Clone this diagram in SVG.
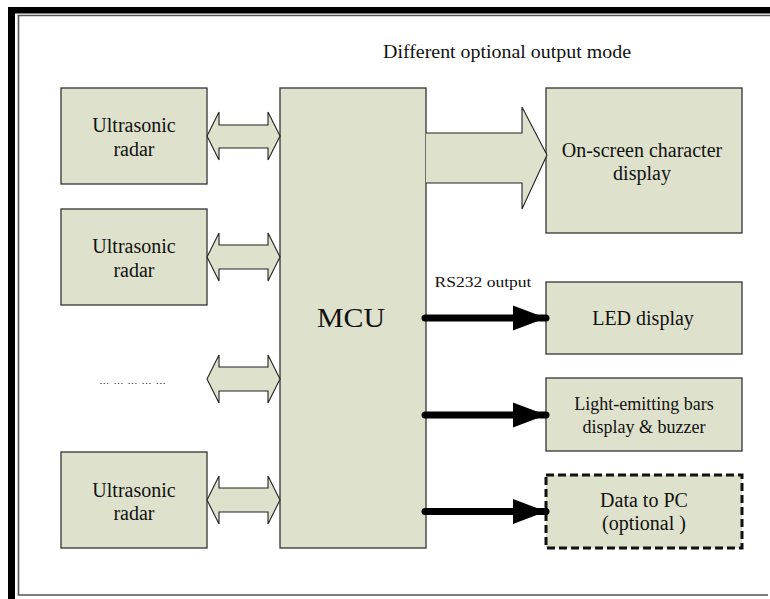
<svg xmlns="http://www.w3.org/2000/svg" width="770" height="599" viewBox="0 0 770 599">
<style>
.box{fill:#dee1cb;stroke:#333;stroke-width:1.3}
.dash{fill:#dee1cb;stroke:#111;stroke-width:3;stroke-dasharray:8 4}
.dbl{fill:#dee1cb;stroke:#222;stroke-width:1.1;stroke-linejoin:miter}
text{font-family:"Liberation Serif","DejaVu Serif",serif;fill:#111;text-anchor:middle}
.thick{stroke:#000;stroke-width:7;stroke-linecap:round;fill:none}
</style>
<defs>
<marker id="ah" markerUnits="userSpaceOnUse" markerWidth="34" markerHeight="30" refX="33" refY="12.5" orient="auto" viewBox="0 0 34 25">
<path d="M0,0 L33,12.5 L0,25 z" fill="#000"/>
</marker>
</defs>
<rect width="770" height="599" fill="#fff"/>
<g id="frame">
<rect x="8" y="7" width="762" height="6.5" fill="#000"/>
<rect x="8" y="7" width="7" height="592" fill="#000"/>
<path d="M17.5,15.5 H770 M18.5,15.5 V595 H768" fill="none" stroke="#555" stroke-width="1.6"/>
</g>
<text x="507" y="58" font-size="18" textLength="248" lengthAdjust="spacingAndGlyphs">Different optional output mode</text>
<g id="radar1"><rect class="box" x="61" y="88" width="146" height="96"/><text x="134" y="132" font-size="20">Ultrasonic</text><text x="134" y="155.5" font-size="20">radar</text></g>
<g id="radar2"><rect class="box" x="61" y="209" width="146" height="96"/><text x="134" y="253" font-size="20">Ultrasonic</text><text x="134" y="276.5" font-size="20">radar</text></g>
<g id="dots" font-size="10"><text x="104.2" y="384">…</text><text x="118.5" y="384">…</text><text x="132.5" y="384">…</text><text x="146.5" y="384">…</text><text x="160.8" y="384">…</text></g>
<g id="radar3"><rect class="box" x="61" y="452" width="146" height="96"/><text x="134" y="497" font-size="20">Ultrasonic</text><text x="134" y="519.5" font-size="20">radar</text></g>
<g id="mcu"><rect class="box" x="280" y="88" width="146" height="460"/><text x="351" y="327" font-size="28" textLength="68" lengthAdjust="spacingAndGlyphs">MCU</text></g>
<g id="osd"><rect class="box" x="546" y="88" width="196" height="145"/><text x="642" y="157" font-size="20">On-screen character</text><text x="642" y="180" font-size="20">display</text></g>
<g id="led"><rect class="box" x="546" y="282" width="196" height="72"/><text x="643" y="325" font-size="20">LED display</text></g>
<g id="bars"><rect class="box" x="546" y="378" width="196" height="73"/><text x="644" y="410" font-size="18">Light-emitting bars</text><text x="644" y="432.5" font-size="18">display &amp; buzzer</text></g>
<g id="pc"><rect class="dash" x="546" y="475" width="196" height="73"/><text x="644" y="507" font-size="20">Data to PC</text><text x="644" y="530" font-size="20">(optional )</text></g>
<g id="connectors">
<path class="dbl" d="M207,136 L219,112 L219,125 L268,125 L268,112 L280,136 L268,160 L268,148 L219,148 L219,160 Z"/>
<path class="dbl" d="M207,257 L219,233 L219,245 L268,245 L268,233 L280,257 L268,281 L268,269 L219,269 L219,281 Z"/>
<path class="dbl" d="M207,379 L219,355 L219,367 L268,367 L268,355 L280,379 L268,403 L268,391 L219,391 L219,403 Z"/>
<path class="dbl" d="M207,500 L219,476 L219,488 L268,488 L268,476 L280,500 L268,524 L268,512 L219,512 L219,524 Z"/>
<path class="dbl" d="M426,133 L522,133 L522,107 L547,155 L522,209 L522,183 L426,183"/>
<line class="thick" x1="425" y1="318" x2="546" y2="318" marker-end="url(#ah)"/>
<line class="thick" x1="425" y1="415" x2="546" y2="415" marker-end="url(#ah)"/>
<line class="thick" x1="425" y1="511.5" x2="546" y2="511.5" marker-end="url(#ah)"/>
<text x="483" y="287" font-size="14" textLength="97" lengthAdjust="spacingAndGlyphs">RS232 output</text>
</g>
</svg>
